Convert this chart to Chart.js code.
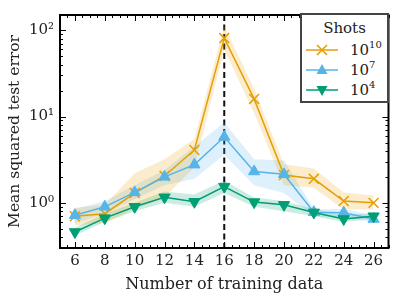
<!DOCTYPE html>
<html>
<head>
<meta charset="utf-8">
<script src="https://cdn.jsdelivr.net/npm/chart.js@4.4.1/dist/chart.umd.min.js"></script>
<style>
  html, body { margin: 0; padding: 0; background: #fff; }
  #wrap { position: relative; width: 397px; height: 299px; }
  #legend {
    position: absolute; left: 300px; top: 13px; width: 85px; height: 86px;
    border: 2px solid #444; background: #fff;
    font-family: "DejaVu Serif", serif; font-size: 15px; color: #222;
  }
  #legend .ttl { text-align: center; margin-top: 4px; height: 20px; }
  #legend .row { position: absolute; left: 4px; height: 20px; }
  #legend .row svg { position: absolute; left: 0; top: 0; }
  #legend .row span { position: absolute; left: 44px; top: 1px; white-space: nowrap; }
  #legend sup { font-size: 10px; vertical-align: 7px; line-height: 0; }
</style>
</head>
<body>
<div id="wrap">
  <canvas id="c" width="397" height="299"></canvas>
  <div id="legend"></div>
</div>
<script>
// number of training data (x)
const trainingData = [6, 8, 10, 12, 14, 16, 18, 20, 22, 24, 26];

// shots = 10^10
const mse1e10 = [0.70, 0.75, 1.3, 2.05, 4.1, 81, 16, 2.1, 1.9, 1.05, 1.0];
const lo1e10  = [0.55, 0.58, 0.85, 1.15, 2.6, 60, 11, 1.6, 1.5, 0.84, 0.84];
const hi1e10  = [0.88, 0.95, 2.2, 3.2, 5.5, 112, 21, 2.8, 2.5, 1.32, 1.22];

// shots = 10^7
const mse1e7 = [0.72, 0.90, 1.32, 2.0, 2.77, 5.8, 2.31, 2.14, 0.78, 0.77, 0.65];
const lo1e7  = [0.58, 0.75, 1.1, 1.6, 1.9, 3.6, 1.6, 1.3, 0.7, 0.68, 0.6];
const hi1e7  = [0.85, 1.05, 1.6, 2.4, 4.5, 8.5, 3.2, 3.1, 0.85, 0.85, 0.72];

// shots = 10^4
const mse1e4 = [0.46, 0.665, 0.90, 1.16, 1.03, 1.54, 1.02, 0.95, 0.775, 0.65, 0.70];
const lo1e4  = [0.42, 0.6, 0.8, 1.0, 0.9, 1.3, 0.9, 0.8, 0.7, 0.6, 0.65];
const hi1e4  = [0.52, 0.75, 1.0, 1.35, 1.25, 1.8, 1.15, 1.05, 0.85, 0.72, 0.76];

const xTicks = [6, 8, 10, 12, 14, 16, 18, 20, 22, 24, 26];
const yTicks = [1, 10, 100];
const yTickLabels = ['10\u2070', '10\u00b9', '10\u00b2'];
const peakX = 16;

const ORANGE = '#E69F00', BLUE = '#56B4E9', GREEN = '#009E73';
const FONT = '"DejaVu Serif", serif';

function pts(arr) { return arr.map((v, i) => ({ x: trainingData[i], y: v })); }

function band(lo, hi, color) {
  return [
    { data: pts(lo), borderWidth: 0, pointRadius: 0, fill: false, order: 10, borderColor: 'transparent' },
    { data: pts(hi), borderWidth: 0, pointRadius: 0, fill: '-1', order: 10, borderColor: 'transparent', backgroundColor: color }
  ];
}

function line(vals, color, style, rot, r, ord) {
  return {
    data: pts(vals), borderColor: color, backgroundColor: color, borderWidth: 1.5,
    pointStyle: style, pointRotation: rot, pointRadius: r, pointBorderWidth: style === 'crossRot' ? 1.5 : 1,
    pointBackgroundColor: color, pointBorderColor: color, fill: false, order: ord
  };
}

// frame, inward ticks (all four sides) and the dashed line at the peak
const frame = {
  id: 'frame',
  beforeDatasetsDraw(chart) {
    const ctx = chart.ctx, xs = chart.scales.x, ca = chart.chartArea;
    const px = xs.getPixelForValue(peakX);
    ctx.save();
    ctx.strokeStyle = '#111';
    ctx.lineWidth = 2;
    ctx.setLineDash([6, 3.5]);
    ctx.beginPath(); ctx.moveTo(px, ca.top); ctx.lineTo(px, ca.bottom); ctx.stroke();
    ctx.restore();
  },
  afterDraw(chart) {
    const ctx = chart.ctx, xs = chart.scales.x, ys = chart.scales.y, ca = chart.chartArea;
    ctx.save();
    ctx.strokeStyle = '#000';
    ctx.lineWidth = 1;
    for (let v = xs.min; v <= xs.max + 1e-9; v += 0.5) {
      const p = Math.round(xs.getPixelForValue(v)) + 0.5;
      const len = (v % 2 === 0) ? 6 : 3;
      ctx.beginPath();
      ctx.moveTo(p, ca.bottom); ctx.lineTo(p, ca.bottom - len);
      ctx.moveTo(p, ca.top); ctx.lineTo(p, ca.top + len);
      ctx.stroke();
    }
    for (let e = -1; e <= 2; e++) {
      for (let m = 1; m <= 9; m++) {
        const v = m * Math.pow(10, e);
        if (v < ys.min || v > ys.max) continue;
        const p = Math.round(ys.getPixelForValue(v)) + 0.5;
        const len = m === 1 ? 6 : 3;
        ctx.beginPath();
        ctx.moveTo(ca.left, p); ctx.lineTo(ca.left + len, p);
        ctx.moveTo(ca.right, p); ctx.lineTo(ca.right - len, p);
        ctx.stroke();
      }
    }
    ctx.lineWidth = 2;
    ctx.strokeRect(ca.left, ca.top, ca.right - ca.left, ca.bottom - ca.top);
    ctx.restore();
  }
};

new Chart(document.getElementById('c'), {
  type: 'line',
  data: {
    datasets: [
      ...band(lo1e10, hi1e10, 'rgba(230,159,0,0.2)'),
      ...band(lo1e7, hi1e7, 'rgba(86,180,233,0.2)'),
      ...band(lo1e4, hi1e4, 'rgba(0,158,115,0.2)'),
      line(mse1e10, ORANGE, 'crossRot', 0, 7, 3),
      line(mse1e7, BLUE, 'triangle', 0, 6.5, 2),
      line(mse1e4, GREEN, 'triangle', 180, 6.5, 1)
    ]
  },
  options: {
    responsive: false,
    animation: false,
    layout: { padding: { left: 0, right: 6, top: 6, bottom: 0 } },
    plugins: { legend: { display: false }, tooltip: { enabled: false } },
    elements: { line: { tension: 0 } },
    scales: {
      x: {
        type: 'linear', min: 5, max: 27,
        grid: { display: false, drawTicks: false },
        border: { display: false },
        afterBuildTicks: s => { s.ticks = xTicks.map(v => ({ value: v })); },
        afterFit: s => { s.height = 51; },
        ticks: { color: '#222', padding: 4, maxRotation: 0, font: { family: FONT, size: 15 } },
        title: { display: true, text: 'Number of training data', color: '#222', padding: { top: 1, bottom: 5 }, font: { family: FONT, size: 16 } }
      },
      y: {
        type: 'logarithmic', min: 0.32, max: 150,
        grid: { display: false, drawTicks: false },
        border: { display: false },
        afterBuildTicks: s => { s.ticks = yTicks.map(v => ({ value: v })); },
        afterFit: s => { s.width = 60; },
        ticks: {
          color: '#222', padding: 6, font: { family: FONT, size: 15 },
          callback: v => yTickLabels[yTicks.indexOf(v)]
        },
        title: { display: true, text: 'Mean squared test error', color: '#222', padding: { top: 6, bottom: 2 }, font: { family: FONT, size: 15.5 } }
      }
    }
  },
  plugins: [frame]
});

// legend drawn as html inside the plot area
const legendItems = [
  { color: ORANGE, mark: 'x', base: '10', exp: '10' },
  { color: BLUE, mark: 'up', base: '10', exp: '7' },
  { color: GREEN, mark: 'down', base: '10', exp: '4' }
];
const lg = document.getElementById('legend');
lg.innerHTML = '<div class="ttl">Shots</div>';
legendItems.forEach((it, i) => {
  let m = '';
  if (it.mark === 'x') m = `<path d="M11 5 L21 15 M21 5 L11 15" stroke="${it.color}" stroke-width="1.6"/>`;
  if (it.mark === 'up') m = `<polygon points="16,4 21.5,14 10.5,14" fill="${it.color}"/>`;
  if (it.mark === 'down') m = `<polygon points="16,16 21.5,6 10.5,6" fill="${it.color}"/>`;
  const row = document.createElement('div');
  row.className = 'row';
  row.style.top = (25 + i * 20) + 'px';
  row.innerHTML = `<svg width="34" height="20"><line x1="0" y1="10" x2="32" y2="10" stroke="${it.color}" stroke-width="1.5"/>${m}</svg>` +
    `<span>${it.base}<sup>${it.exp}</sup></span>`;
  lg.appendChild(row);
});
</script>
</body>
</html>
